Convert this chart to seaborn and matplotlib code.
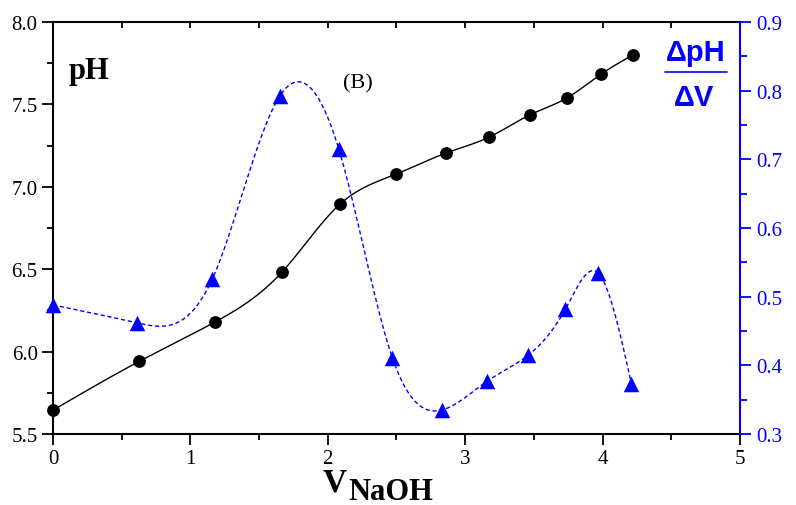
import numpy as np
import pandas as pd
import matplotlib
matplotlib.use("Agg")
import matplotlib.pyplot as plt
from matplotlib.ticker import MultipleLocator
from matplotlib.lines import Line2D
import seaborn as sns

# ---- data ----
v_ph = [0.0, 0.626, 1.18, 1.667, 2.09, 2.50, 2.86, 3.17, 3.47, 3.74, 3.99, 4.22]
ph = [5.645, 5.94, 6.18, 6.483, 6.896, 7.078, 7.205, 7.30, 7.436, 7.539, 7.684, 7.80]

v_d = [0.0, 0.61, 1.16, 1.65, 2.08, 2.47, 2.83, 3.16, 3.46, 3.73, 3.97, 4.21]
dph_dv = [0.488, 0.462, 0.526, 0.792, 0.715, 0.411, 0.335, 0.377, 0.415, 0.482, 0.534, 0.373]

x_ticks = [0, 1, 2, 3, 4, 5]
left_ticks = [5.5, 6.0, 6.5, 7.0, 7.5, 8.0]
right_ticks = [0.3, 0.4, 0.5, 0.6, 0.7, 0.8, 0.9]

BLUE = "#0000ff"


def natural_spline(x, y, n=400):
    x = np.asarray(x, float)
    y = np.asarray(y, float)
    m = len(x)
    h = np.diff(x)
    A = np.zeros((m, m))
    b = np.zeros(m)
    A[0, 0] = 1
    A[-1, -1] = 1
    for i in range(1, m - 1):
        A[i, i - 1] = h[i - 1]
        A[i, i] = 2 * (h[i - 1] + h[i])
        A[i, i + 1] = h[i]
        b[i] = 3 * ((y[i + 1] - y[i]) / h[i] - (y[i] - y[i - 1]) / h[i - 1])
    c = np.linalg.solve(A, b)
    xs = np.linspace(x[0], x[-1], n)
    ys = np.empty_like(xs)
    for k, xv in enumerate(xs):
        i = min(np.searchsorted(x, xv, side="right") - 1, m - 2)
        i = max(i, 0)
        bi = (y[i + 1] - y[i]) / h[i] - h[i] * (2 * c[i] + c[i + 1]) / 3
        di = (c[i + 1] - c[i]) / (3 * h[i])
        dx = xv - x[i]
        ys[k] = y[i] + bi * dx + c[i] * dx ** 2 + di * dx ** 3
    return xs, ys


sns.set_theme(style="white")
plt.rcParams["font.family"] = ["Liberation Serif", "DejaVu Serif"]
plt.rcParams["axes.linewidth"] = 1.5
plt.rcParams["text.color"] = "black"
plt.rcParams["axes.labelcolor"] = "black"
plt.rcParams["xtick.color"] = "black"
plt.rcParams["ytick.color"] = "black"

fig = plt.figure(figsize=(7.96, 5.06), dpi=100)
ax = fig.add_axes([0.0666, 0.1403, 0.8630, 0.8142])
ax2 = ax.twinx()

df_ph = pd.DataFrame({"V": v_ph, "pH": ph})
df_d = pd.DataFrame({"V": v_d, "d": dph_dv})

xs1, ys1 = natural_spline(v_ph, ph)
xs2, ys2 = natural_spline(v_d, dph_dv)

sns.lineplot(x=xs1, y=ys1, ax=ax, color="black", lw=1.0, sort=False)
sns.scatterplot(data=df_ph, x="V", y="pH", ax=ax, color="black", s=85,
                marker="o", edgecolor="black", linewidth=0, zorder=5, clip_on=False)

sns.lineplot(x=xs2, y=ys2, ax=ax2, color=BLUE, lw=1.0, sort=False,
             dashes=False, linestyle=(0, (3, 2)))
sns.scatterplot(data=df_d, x="V", y="d", ax=ax2, color=BLUE, s=125,
                marker="^", edgecolor=BLUE, linewidth=0, zorder=5, clip_on=False)

ax.set_xlim(0, 5)
ax.set_ylim(5.5, 8.0)
ax2.set_ylim(0.3, 0.9)

ax.set_xticks(x_ticks)
ax.set_xticklabels([str(t) for t in x_ticks])
ax.xaxis.set_minor_locator(MultipleLocator(0.5))
ax.set_yticks(left_ticks)
ax.set_yticklabels([f"{t:.1f}" for t in left_ticks])
ax.yaxis.set_minor_locator(MultipleLocator(0.25))
ax2.set_yticks(right_ticks)
ax2.set_yticklabels([f"{t:.1f}" for t in right_ticks])
ax2.yaxis.set_minor_locator(MultipleLocator(0.05))

ax.set_xlabel("")
ax.set_ylabel("")
ax2.set_ylabel("")

ax.tick_params(axis="both", which="major", direction="out", length=8, width=1.3,
               labelsize=15, colors="black", pad=3)
ax.tick_params(axis="both", which="minor", direction="out", length=4.5, width=1.3,
               colors="black")
ax.tick_params(axis="x", which="both", top=False, bottom=True)
ax.tick_params(axis="y", which="both", left=True, right=False)

ax2.tick_params(axis="y", which="major", direction="out", length=8, width=1.3,
                labelsize=15, colors=BLUE, pad=4, right=True)
ax2.tick_params(axis="y", which="minor", direction="out", length=5, width=1.3,
                colors=BLUE, right=True)

for s in ["left", "bottom", "top"]:
    ax.spines[s].set_color("black")
    ax.spines[s].set_linewidth(1.5)
ax.spines["right"].set_visible(False)
for s in ["left", "bottom", "top"]:
    ax2.spines[s].set_visible(False)
ax2.spines["right"].set_color(BLUE)
ax2.spines["right"].set_linewidth(1.5)

# top ticks pointing inward
secx = ax.secondary_xaxis("top")
secx.set_xticks(np.arange(0, 5.01, 0.5))
secx.tick_params(axis="x", direction="in", length=4.5, width=1.3, labeltop=False,
                 colors="black")
secx.spines["top"].set_visible(False)

# texts
ax.text(0.022, 0.865, "pH", transform=ax.transAxes, fontsize=22,
        fontweight="bold", ha="left", va="baseline", color="black")
fig.text(358 / 796, 1 - 84 / 506, "(B)", fontsize=16, ha="center", va="center",
         color="black")

fig.text(347 / 796, 1 - 492 / 506, "V", fontsize=24, fontweight="bold",
         ha="right", va="baseline", color="black")
fig.text(348 / 796, 1 - 500 / 506, "NaOH", fontsize=22, fontweight="bold",
         ha="left", va="baseline", color="black")

sans = ["Liberation Sans", "DejaVu Sans"]
fig.text(696 / 796, 1 - 53 / 506, "\u0394pH", fontsize=21, fontweight="bold",
         color=BLUE, ha="center", va="center", family=sans)
fig.text(694 / 796, 1 - 98 / 506, "\u0394V", fontsize=21, fontweight="bold",
         color=BLUE, ha="center", va="center", family=sans)
fig.add_artist(Line2D([665 / 796, 727 / 796], [1 - 73 / 506, 1 - 73 / 506],
                      transform=fig.transFigure, color=BLUE, lw=1.2))

fig.savefig("out.png", dpi=100)
